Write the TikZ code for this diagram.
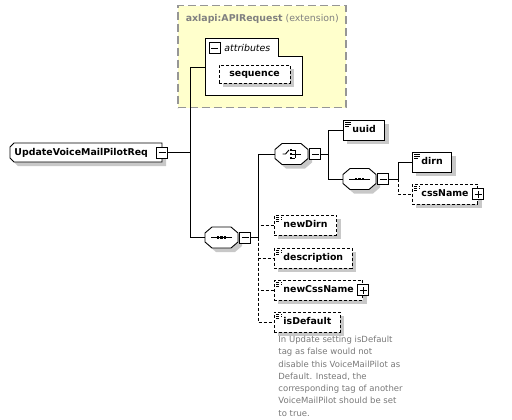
\documentclass[tikz,border=0pt]{standalone}
\usepackage{fontspec}
\setmainfont{DejaVu Sans}
\usepackage{tikz}
\usetikzlibrary{shadows,positioning}

\definecolor{extfill}{RGB}{255,255,204}
\definecolor{extline}{RGB}{150,150,150}
\definecolor{shadowgray}{RGB}{200,200,200}
\definecolor{notegray}{RGB}{120,120,120}

% octagon of a compositor, centred on (0,0)
\newcommand{\octpath}{(-9.5,-10.5) -- (9.5,-10.5) -- (16.5,-4.5) -- (16.5,4.5) -- (9.5,10.5) -- (-9.5,10.5) -- (-16.5,4.5) -- (-16.5,-4.5) -- cycle}
% #1 name, #2 x, #3 y, #4 icon style
\newcommand{\compnode}[4]{%
  \fill [shadowgray, shift={(#2+4,#3+4)}] \octpath;
  \draw [fill=white, shift={(#2,#3)}] \octpath;
  \node [compbox, #4] (#1) at (#2,#3) {};
}

\begin{document}
\begin{tikzpicture}[x=1pt, y=-1pt, line width=0.9pt]
        % Define styles
        \tikzstyle{boxshadow} = [drop shadow={shadow xshift=4pt, shadow yshift=-4pt, opacity=1, fill=shadowgray, draw=none}]
        \tikzstyle{element} = [rectangle, draw, fill=white, anchor=west, inner xsep=9pt, inner ysep=0pt, minimum height=20pt, text height=7pt, text depth=2pt, font=\fontsize{9.4}{11}\selectfont\bfseries, boxshadow]
        \tikzstyle{simple} = [path picture={
            \draw[line width=0.8pt] ([xshift=2pt,yshift=-2.3pt]path picture bounding box.north west) -- +(6pt,0pt);
            \draw[line width=0.8pt] ([xshift=2pt,yshift=-4.3pt]path picture bounding box.north west) -- +(6pt,0pt);
            \draw[line width=0.8pt] ([xshift=2pt,yshift=-6.3pt]path picture bounding box.north west) -- +(4pt,0pt);}]
        \tikzstyle{optional} = [dash pattern=on 3pt off 2pt]
        \tikzstyle{compbox} = [rectangle, minimum width=33pt, minimum height=21pt, inner sep=0pt]
        \tikzstyle{seqicon} = [path picture={
            \draw ([xshift=6pt]path picture bounding box.west) -- ([xshift=-6pt]path picture bounding box.east);
            \foreach \d in {-3.2,0,3.2}
                \fill ([xshift=\d pt]path picture bounding box.center) +(-1.1pt,-1.2pt) rectangle +(1.1pt,1.2pt);}]
        \tikzstyle{choiceicon} = [path picture={
            \draw ([xshift=-9pt]path picture bounding box.center) -- +(3pt,0pt) -- +(6.5pt,4pt);
            \foreach \d in {-4,0,4} {
                \fill ([xshift=-0.5pt,yshift=\d pt]path picture bounding box.center) +(-1.1pt,-1.1pt) rectangle +(1.1pt,1.1pt);
                \draw ([xshift=-0.5pt,yshift=\d pt]path picture bounding box.center) -- +(4pt,0pt);}
            \draw ([xshift=3.5pt,yshift=4pt]path picture bounding box.center) -- +(0pt,-8pt);
            \draw ([xshift=3.5pt]path picture bounding box.center) -- +(5.5pt,0pt);}]
        \tikzstyle{togglebox} = [rectangle, draw, fill=white, minimum size=11pt, inner sep=0pt, line width=0.9pt]
        \tikzstyle{minus} = [togglebox, path picture={
            \draw ([xshift=2pt]path picture bounding box.west) -- ([xshift=-2pt]path picture bounding box.east);}]
        \tikzstyle{plus} = [togglebox, path picture={
            \draw ([xshift=2pt]path picture bounding box.west) -- ([xshift=-2pt]path picture bounding box.east);
            \draw ([yshift=2pt]path picture bounding box.south) -- ([yshift=-2pt]path picture bounding box.north);}]
        \tikzstyle{optline} = [dash pattern=on 3pt off 2pt]
        \tikzstyle{note} = [align=left, inner sep=0pt, anchor=north west, text=notegray, font=\fontsize{8.5}{12.3}\selectfont]

        \useasboundingbox (0,0) rectangle (512,420);

        % Base type
        \node [rectangle, draw=extline, fill=extfill, line width=1.5pt, dash pattern=on 8pt off 4pt, anchor=north west, minimum width=168pt, minimum height=102pt] (ext) at (177,5) {};
        \node [anchor=west, text=gray, font=\fontsize{9.4}{11}\selectfont] (exttitle) at (182,19) {\textbf{axlapi:APIRequest} (extension)};
        \draw [fill=white] (205,38) -- (278,38) -- (278,56) -- (302,56) -- (302,95) -- (205,95) -- cycle;
        \node [minus] (attrm) at (214.5,48) {};
        \node [anchor=west, inner sep=0pt, font=\fontsize{9.4}{11}\selectfont\itshape] (attrtitle) at (224,48) {attributes};
        \node [element, dash pattern=on 3pt off 2pt, anchor=center, minimum width=71pt, minimum height=18pt] (seqattr) at (254.5,74) {sequence};
        \coordinate (attrs) at (205,67);

        % Root element (cut corners on the left)
        \fill [shadowgray] (18,147) -- (166,147) -- (166,166) -- (18,166) -- (14,162) -- (14,151) -- cycle;
        \draw [fill=white] (14,143) -- (162,143) -- (162,162) -- (14,162) -- (10,158) -- (10,147) -- cycle;
        \node [anchor=west, inner xsep=4pt, inner ysep=0pt, text height=7pt, text depth=2pt, font=\fontsize{9.4}{11}\selectfont\bfseries] (root) at (10,152.5) {UpdateVoiceMailPilotReq\hspace{10pt}};
        \node [minus] (rootm) at (162,152.5) {};
        \coordinate (rootbus) at (190,152.5);

        % Compositors
        \compnode{seqmain}{221.5}{237.5}{seqicon}
        \node [minus, right=1pt of seqmain] (seqmainm) {};
        \coordinate (seqbus) at (258,237.5);
        \compnode{choice}{291.5}{154}{choiceicon}
        \node [minus, right=1pt of choice] (choicem) {};
        \coordinate (choicebus) at (328,154);
        \compnode{seqdirn}{359.5}{179}{seqicon}
        \node [minus, right=1pt of seqdirn] (seqdirnm) {};
        \coordinate (dirnbus) at (398,179);

        % Child elements
        \node [element, simple] (uuid) at (343,130) {uuid};
        \node [element, simple] (dirn) at (412,162) {dirn};
        \node [element, simple, optional] (cssname) at (412,194) {cssName\hspace{6pt}};
        \node [plus] (cssnamep) at (cssname.east) {};
        \node [element, simple, optional] (newdirn) at (274,225) {newDirn};
        \node [element, simple, optional] (descr) at (274,258) {description};
        \node [element, simple, optional] (newcss) at (274,290) {newCssName\hspace{11pt}};
        \node [plus] (newcssp) at (newcss.east) {};
        \node [element, simple, optional] (isdef) at (274,322) {isDefault};

        % Annotation
        \node [note] (isdefnote) at (278,335.5) {In Update setting isDefault\\tag as false would not\\disable this VoiceMailPilot as\\Default. Instead, the\\corresponding tag of another\\VoiceMailPilot should be set\\to true.};

        % Connectors
        \draw (rootm.east) -- (rootbus);
        \draw (attrs) -- (attrs -| rootbus) |- (seqmain.west);
        \draw (seqmainm.east) -- (seqbus);
        \draw (seqbus) |- (choice.west);
        \draw [optline] (seqbus) |- (newdirn.west);
        \draw [optline] (seqbus) |- (descr.west);
        \draw [optline] (seqbus) |- (newcss.west);
        \draw [optline] (seqbus) |- (isdef.west);
        \draw (choicem.east) -- (choicebus);
        \draw (choicebus) |- (uuid.west);
        \draw (choicebus) |- (seqdirn.west);
        \draw (seqdirnm.east) -- (dirnbus);
        \draw (dirnbus) |- (dirn.west);
        \draw [optline] (dirnbus) |- (cssname.west);
\end{tikzpicture}
\end{document}
